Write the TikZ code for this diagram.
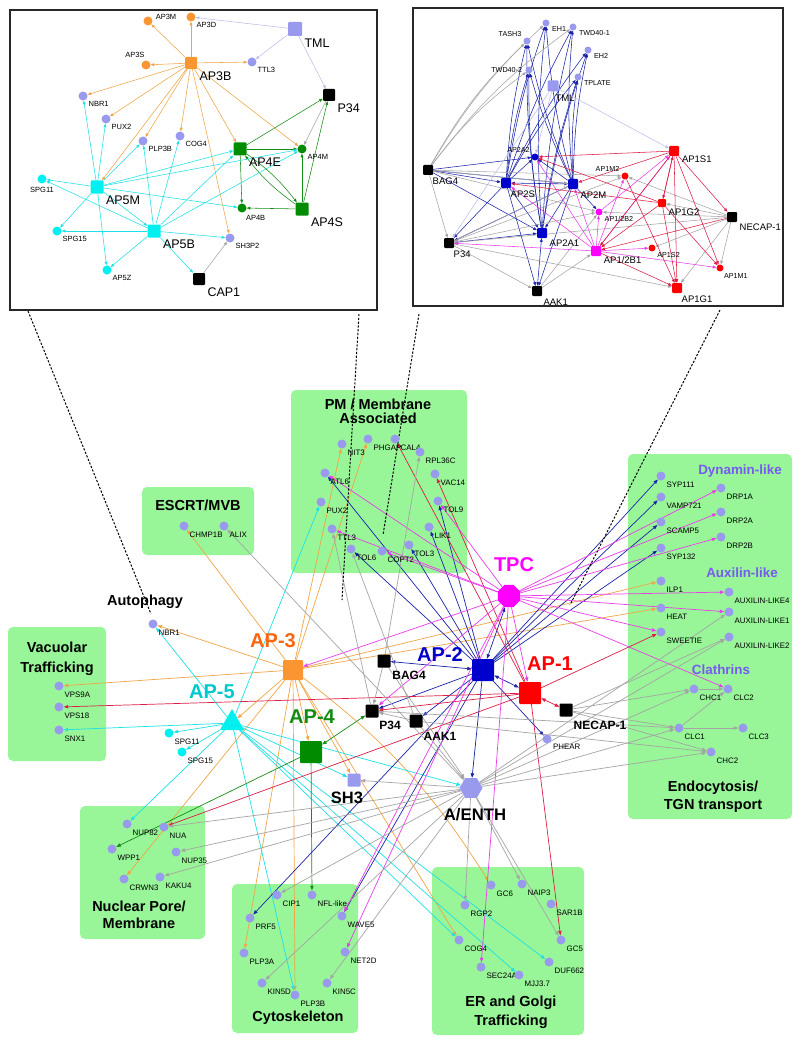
\documentclass[tikz,border=0pt]{standalone}
\usepackage{fontspec}
\setmainfont{Liberation Sans}
\usetikzlibrary{arrows.meta,shapes.geometric}
\pgfdeclarelayer{boxl}\pgfdeclarelayer{edgel}
\pgfsetlayers{boxl,edgel,main}
\definecolor{lav}{RGB}{153,153,238}
\definecolor{grn}{RGB}{152,245,152}
\definecolor{orn}{RGB}{250,150,50}
\definecolor{ornE}{RGB}{240,165,70}
\definecolor{ornT}{RGB}{252,100,15}
\definecolor{cyn}{RGB}{0,240,240}
\definecolor{cynE}{RGB}{30,225,230}
\definecolor{cynT}{RGB}{0,200,205}
\definecolor{gn}{RGB}{0,140,0}
\definecolor{gnE}{RGB}{20,140,20}
\definecolor{blu}{RGB}{0,0,205}
\definecolor{bluE}{RGB}{25,35,170}
\definecolor{rd}{RGB}{255,0,0}
\definecolor{rdE}{RGB}{220,30,70}
\definecolor{mag}{RGB}{255,0,255}
\definecolor{magE}{RGB}{235,60,235}
\definecolor{gry}{RGB}{165,165,165}
\definecolor{lavE}{RGB}{190,190,235}
\definecolor{purT}{RGB}{120,90,240}
\definecolor{framec}{RGB}{40,40,40}
\tikzset{
 lbl/.style={font=\fontsize{7.9}{8.5}\selectfont},
 slbl/.style={font=\fontsize{7.5}{8}\selectfont},
 tlbl/.style={font=\fontsize{7.2}{8}\selectfont},
 bigl/.style={font=\fontsize{12.5}{13}\selectfont},
 midl/.style={font=\fontsize{9.5}{10}\selectfont},
 blkl/.style={font=\bfseries\fontsize{12}{13}\selectfont, inner sep=0pt},
 hubl/.style={font=\bfseries\fontsize{20}{22}\selectfont, inner sep=0pt},
 grpt/.style={font=\bfseries\fontsize{14.5}{14}\selectfont, inner sep=0pt, align=center},
 subt/.style={font=\bfseries\fontsize{13.4}{14}\selectfont, inner sep=0pt, text=purT},
 cir/.style={circle, fill=#1, inner sep=0pt, minimum size=9pt},
 scir/.style={circle, fill=#1, inner sep=0pt, minimum size=7pt},
 sq/.style 2 args={rectangle, rounded corners=1pt, fill=#1, inner sep=0pt, minimum size=#2},
 gbox/.style={fill=grn, rounded corners=5pt},
 every label/.style={inner sep=0pt},
 label distance=3pt,
 e/.style={line width=0.7pt, -{Triangle[length=4.5pt,width=3.4pt]}},
 ee/.style={line width=0.7pt, {Triangle[length=4.5pt,width=3.4pt]}-{Triangle[length=4.5pt,width=3.4pt]}},
 se/.style={line width=0.55pt, -{Triangle[length=3.6pt,width=2.8pt]}},
 see/.style={line width=0.55pt, {Triangle[length=3.6pt,width=2.8pt]}-{Triangle[length=3.6pt,width=2.8pt]}},
 dline/.style={black, line width=1pt, dash pattern=on 2.2pt off 1.6pt},
}
\begin{document}
\begin{tikzpicture}[x=1pt,y=-1pt]
\useasboundingbox (0,0) rectangle (800,1043);
\begin{pgfonlayer}{boxl}
\fill[white] (0,0) rectangle (800,1043);
\draw[framec, line width=1.3pt] (10,10) rectangle (377,310);
\draw[framec, line width=1.3pt] (413,8) rectangle (783,306);
\fill[gbox] (291,390) rectangle (467,573);
\fill[gbox] (142,487) rectangle (254,555);
\fill[gbox] (8,627) rectangle (106,761);
\fill[gbox] (80,806) rectangle (205,939);
\fill[gbox] (232,884) rectangle (358,1033);
\fill[gbox] (432,867) rectangle (584,1035);
\fill[gbox] (628,454) rectangle (792,819);
\end{pgfonlayer}

% ================= inset 1 =================
\node[cir=orn,label={[slbl]10:AP3M}] (aAP3M) at (148,21) {};
\node[cir=orn,label={[slbl]-45:AP3D}] (aAP3D) at (191,17) {};
\node[sq={lav}{14pt},label={[bigl]-45:TML}] (aTML) at (295,29) {};
\node[cir=orn,label={[slbl]100:AP3S}] (aAP3S) at (146,65) {};
\node[sq={orn}{12pt},label={[bigl]-45:AP3B}] (aAP3B) at (191,63) {};
\node[cir=lav,label={[slbl]-45:TTL3}] (aTTL3) at (252,62) {};
\node[sq={black}{12pt},label={[bigl]-45:P34}] (aP34) at (329,95) {};
\node[cir=lav,label={[slbl]-45:NBR1}] (aNBR1) at (83,96) {};
\node[cir=lav,label={[slbl]-45:PUX2}] (aPUX2) at (106,119) {};
\node[cir=lav,label={[slbl]-45:PLP3B}] (aPLP3B) at (143,141) {};
\node[cir=lav,label={[slbl]-45:COG4}] (aCOG4) at (180,136) {};
\node[sq={gn}{13pt},label={[bigl]-45:AP4E}] (aAP4E) at (240,149) {};
\node[cir=gn,label={[slbl]-45:AP4M}] (aAP4M) at (302,149) {};
\node[sq={cyn}{13pt},label={[bigl]-45:AP5M}] (aAP5M) at (97,187) {};
\node[cir=cyn,label={[slbl]-90:SPG11}] (aSPG11) at (42,179) {};
\node[cir=gn,label={[slbl]-60:AP4B}] (aAP4B) at (242,208) {};
\node[sq={gn}{13pt},label={[bigl]-45:AP4S}] (aAP4S) at (302,209) {};
\node[cir=cyn,label={[slbl]-45:SPG15}] (aSPG15) at (57,231) {};
\node[sq={cyn}{13pt},label={[bigl]-45:AP5B}] (aAP5B) at (154,231) {};
\node[cir=lav,label={[slbl]-45:SH3P2}] (aSH3P2) at (230,238) {};
\node[cir=cyn,label={[slbl]-45:AP5Z}] (aAP5Z) at (107,270) {};
\node[sq={black}{12pt},label={[bigl]-45:CAP1}] (aCAP1) at (199,279) {};

% ================= inset 2 =================
\node[scir=lav,label={[tlbl]-30:EH1}] (bEH1) at (546,23) {};
\node[scir=lav,label={[tlbl]-30:TWD40-1}] (bTWDa) at (573,27) {};
\node[scir=lav,label={[tlbl]145:TASH3}] (bTASH3) at (527,41) {};
\node[scir=lav,label={[tlbl]-30:EH2}] (bEH2) at (588,50) {};
\node[scir=lav,label={[tlbl]180:TWD40-2}] (bTWDb) at (529,70) {};
\node[scir=lav,label={[tlbl]-30:TPLATE}] (bTPLATE) at (578,77) {};
\node[sq={lav}{11pt},label={[midl]-75:TML}] (bTML) at (553,86) {};
\node[scir=blu,label={[tlbl]140:AP2A2}] (bAP2A2) at (535,157) {};
\node[sq={rd}{10pt},label={[midl]-30:AP1S1}] (bAP1S1) at (674,151) {};
\node[scir=rd,label={[tlbl]145:AP1M2}] (bAP1M2) at (625,176) {};
\node[sq={black}{10pt},label={[midl]-60:BAG4}] (bBAG4) at (428,170) {};
\node[sq={blu}{10pt},label={[midl]-60:AP2S}] (bAP2S) at (506,183) {};
\node[sq={blu}{10pt},label={[midl]-45:AP2M}] (bAP2M) at (573,184) {};
\node[sq={rd}{8pt},label={[midl]-40:AP1G2}] (bAP1G2) at (662,203) {};
\node[sq={black}{10pt},label={[midl]-40:NECAP-1}] (bNECAP) at (732,217) {};
\node[scir=mag,label={[tlbl]-35:AP1/2B2}] (bB2) at (599,212) {};
\node[sq={blu}{10pt},label={[midl]-40:AP2A1}] (bAP2A1) at (542,233) {};
\node[sq={black}{10pt},label={[midl]-60:P34}] (bP34) at (449,243) {};
\node[sq={mag}{10pt},label={[midl]-35:AP1/2B1}] (bB1) at (596,251) {};
\node[scir=rd,label={[tlbl]-40:AP1S2}] (bAP1S2) at (652,248) {};
\node[scir=rd,label={[tlbl]-55:AP1M1}] (bAP1M1) at (720,268) {};
\node[sq={black}{10pt},label={[midl]-50:AAK1}] (bAAK1) at (537,291) {};
\node[sq={rd}{10pt},label={[midl]-60:AP1G1}] (bAP1G1) at (677,288) {};

% ================= main graph: hubs =================
\node[sq={orn}{20pt}] (AP3) at (293,670) {};
\node[regular polygon, regular polygon sides=3, fill=cyn, inner sep=0pt, minimum size=28pt] (AP5) at (232,723) {};
\node[sq={gn}{22pt}] (AP4) at (311,752) {};
\node[sq={blu}{22pt}] (AP2) at (483,670) {};
\node[sq={rd}{22pt}] (AP1) at (530,693) {};
\node[regular polygon, regular polygon sides=8, fill=mag, inner sep=0pt, minimum size=24pt] (TPC) at (509,596) {};
\node[regular polygon, regular polygon sides=6, fill=lav, inner sep=0pt, minimum size=23pt] (AENTH) at (471,788) {};
\node[sq={lav}{13pt}] (SH3) at (354,780) {};
\node[sq={black}{13pt}] (BAG4) at (384,661) {};
\node[sq={black}{13pt}] (P34) at (372,711) {};
\node[sq={black}{13pt}] (AAK1) at (416,721) {};
\node[sq={black}{13pt}] (NECAP) at (566,710) {};
\node[cir=lav,label={[lbl]-40:PHEAR}] (PHEAR) at (547,739) {};

\node[hubl,text=ornT] (AP3l) at (273,641) {AP-3};
\node[hubl,text=cynT] (AP5l) at (212,692) {AP-5};
\node[hubl,text=gnE] (AP4l) at (312,717) {AP-4};
\node[hubl,text=blu] (AP2l) at (440,655) {AP-2};
\node[hubl,text=rd] (AP1l) at (550,664) {AP-1};
\node[hubl,text=mag] (TPCl) at (514,565) {TPC};
\node[font=\bfseries\fontsize{16.7}{18}\selectfont,inner sep=0pt] (AENTHl) at (475,815) {A/ENTH};
\node[font=\bfseries\fontsize{16.5}{18}\selectfont,inner sep=0pt] (SH3l) at (347,798) {SH3};
\node[blkl] (BAG4l) at (409,675) {BAG4};
\node[blkl] (P34l) at (390,725) {P34};
\node[blkl] (AAK1l) at (440,736) {AAK1};
\node[blkl] (NECAPl) at (600,725) {NECAP-1};

% group titles
\node[grpt] (ESCRTt) at (198,505) {ESCRT/MVB};
\node[grpt] (PMt) at (378,411) {PM / Membrane\\Associated};
\node[grpt,font=\bfseries\fontsize{14.5}{20}\selectfont] (Vact) at (57,659) {Vacuolar\\Trafficking};
\node[grpt] (Autot) at (145,602) {Autophagy};
\node[grpt,font=\bfseries\fontsize{14.5}{17}\selectfont] (Nuct) at (139,915) {Nuclear Pore/\\Membrane};
\node[grpt] (Cytot) at (298,1018) {Cytoskeleton};
\node[grpt,font=\bfseries\fontsize{14.5}{19}\selectfont] (ERt) at (511,1012) {ER and Golgi\\Trafficking};
\node[grpt,font=\bfseries\fontsize{14.5}{18}\selectfont] (Endot) at (713,797) {Endocytosis/\\TGN transport};
\node[subt] (Dynt) at (740,471) {Dynamin-like};
\node[subt] (Auxt) at (742,573) {Auxilin-like};
\node[subt] (Clat) at (721,670) {Clathrins};

% ================= main graph: leaf nodes =================
\foreach \n/\x/\y/\t in {
 NBR1/153/624/NBR1, CHMP1B/184/526/CHMP1B, ALIX/224/526/ALIX,
 VPS9A/59/686/VPS9A, VPS18/59/707/VPS18, SNX1/59/730/SNX1,
 NUP82/127/824/NUP82, NUA/164/827/NUA, WPP1/112/849/WPP1, NUP35/176/852/NUP35,
 CRWN3/124/879/CRWN3, KAKU4/160/877/KAKU4,
 CIP1/277/895/CIP1, NFLlike/312/895/NFL-like, PRF5/250/918/PRF5, WAVE5/342/916/WAVE5,
 PLP3A/244/953/PLP3A, NET2D/345/952/NET2D, KIN5D/262/983/KIN5D, PLP3B/295/995/PLP3B, KIN5C/327/983/KIN5C,
 GC6/491/885/GC6, NAIP3/522/884/NAIP3, RGP2/465/905/RGP2, SAR1B/551/904/SAR1B,
 COG4/459/940/COG4, GC5/561/940/GC5, DUF662/549/962/DUF662, SEC24A/481/967/SEC24A, MJJ/519/975/MJJ3.7,
 SYP111/661/476/SYP111, DRP1A/721/488/DRP1A, VAMP721/661/497/VAMP721, DRP2A/721/512/DRP2A,
 SCAMP5/661/522/SCAMP5, DRP2B/721/537/DRP2B, SYP132/661/548/SYP132,
 ILP1/661/581/ILP1, AUXf/729/592/AUXILIN-LIKE4, HEAT/661/608/HEAT, AUXa/729/612/AUXILIN-LIKE1,
 SWEETIE/661/632/SWEETIE, AUXb/729/637/AUXILIN-LIKE2,
 CHC1/694/689/CHC1, CLC2/728/689/CLC2, CLC1/679/728/CLC1, CLC3/743/728/CLC3, CHC2/711/752/CHC2,
 NIT3/342/444/NIT3, PHGAP/368/439/PHGAP, CALf/395/439/CAL4, RPL36C/420/452/RPL36C, VAC14/435/474/VAC14,
 ATL6/325/473/ATL6, PUX2/321/502/PUX2, TOL9/438/501/TOL9, TTL3/332/529/TTL3, LIK1/429/527/LIK1,
 TOL6/351/549/TOL6, TOL3/409/545/TOL3, COPT2/382/551/COPT2}
 {\node[cir=lav,label={[lbl]-45:\t}] (\n) at (\x,\y) {};}
\node[cir=cyn,label={[lbl]-45:SPG11}] (SPG11) at (169,733) {};
\node[cir=cyn,label={[lbl]-45:SPG15}] (SPG15) at (182,752) {};

% dashed zoom lines
\coordinate (d1a) at (28,311); \coordinate (d1b) at (151,614);
\coordinate (d2a) at (359,314); \coordinate (d2b) at (342,600);
\coordinate (d3a) at (419,314); \coordinate (d3b) at (383,535);
\coordinate (d4a) at (720,310); \coordinate (d4b) at (570,605);

\begin{pgfonlayer}{edgel}
% ---------- inset 1 ----------
\foreach \t in {aAP3M,aAP3D,aAP3S,aTTL3,aNBR1,aPUX2,aPLP3B,aCOG4,aAP4E,aAP4M,aAP5M,aSH3P2}
 \draw[se,ornE] (aAP3B) -- (\t);
\foreach \t in {aAP3D,aTTL3,aP34} \draw[se,lavE] (aTML) -- (\t);
\foreach \t in {aP34,aAP4M,aAP4B} \draw[se,gnE] (aAP4E) -- (\t);
\draw[se,gnE] (aAP4E) to[bend left=8] (aAP4S);
\draw[se,gnE] (aAP4S) to[bend left=8] (aAP4E);
\foreach \t in {aAP4B,aAP4M,aP34} \draw[se,gnE] (aAP4S) -- (\t);
\draw[se,gry] (aP34) -- (aAP4M);
\draw[se,gry] (aCAP1) -- (aSH3P2);
\foreach \t in {aNBR1,aPUX2,aPLP3B,aSPG11,aSPG15,aAP5Z,aAP4E,aAP4M,aAP4B,aAP5B}
 \draw[se,cynE] (aAP5M) -- (\t);
\foreach \t in {aSPG11,aSPG15,aAP5Z,aPLP3B,aCOG4,aAP4E,aAP4M,aSH3P2,aCAP1}
 \draw[se,cynE] (aAP5B) -- (\t);

% ---------- inset 2 ----------
\foreach \s in {bAP2S,bAP2M,bAP2A1}
 \foreach \t in {bEH1,bTWDa,bTASH3,bEH2,bTWDb,bTPLATE}
  \draw[se,bluE] (\s) to[bend left=5] (\t);
\foreach \t in {bTASH3,bTWDb,bEH1,bTWDa} \draw[se,gry] (bBAG4) to[bend left=8] (\t);
\draw[see,bluE] (bAP2S) -- (bAP2M);
\foreach \t in {bAP2A2,bAP2A1,bAAK1,bP34} \draw[se,bluE] (bAP2S) -- (\t);
\foreach \t in {bAP2A2,bAP2A1,bB2,bAAK1,bP34} \draw[se,bluE] (bAP2M) -- (\t);
\foreach \t in {bAAK1,bP34} \draw[see,bluE] (bAP2A1) -- (\t);
\foreach \t in {bAP2A2,bAP2S,bAP2M,bAP2A1} \draw[se,bluE] (bBAG4) -- (\t);
\foreach \t in {bP34,bAP1M2,bB2,bAP2M} \draw[se,gry] (bBAG4) -- (\t);
\foreach \t in {bAAK1,bAP1G1,bB2,bAP1M2,bAP2M} \draw[se,gry] (bP34) -- (\t);
\foreach \t in {bB1,bB2} \draw[se,gry] (bAAK1) -- (\t);
\foreach \t in {bAP1G2,bAP1M1,bAP1G1,bAP1S2,bAP1M2,bB2,bP34} \draw[se,gry] (bNECAP) -- (\t);
\foreach \t in {bAP2A2,bP34,bAP1S1} \draw[se,lavE] (bTML) -- (\t);
\foreach \t in {bP34,bAP2A2,bAP2S,bAP2M,bAP1S1,bAP1M2,bAP1S2,bAP1M1,bB2}
 \draw[se,magE] (bB1) -- (\t);
\draw[se,magE] (bB2) -- (bAP1S1);
\foreach \t in {bAP2A2,bAP1G2,bB1,bNECAP,bAP1M1,bAP1G1,bAP2M} \draw[se,rdE] (bAP1S1) -- (\t);
\foreach \t in {bAP2S,bAP2A2,bB1,bAP1M1,bAP1G1,bAP1S1} \draw[se,rdE] (bAP1G2) -- (\t);
\draw[se,rdE] (bB1) -- (bAP1G1);
\draw[se,rdE] (bAP1M2) -- (bAP1G1);
\draw[se,rdE] (bNECAP) -- (bB1);

% ---------- main graph ----------
\foreach \t in {NBR1,CHMP1B,VPS9A,NIT3,PHGAP,ILP1,HEAT,CRWN3,PLP3A,PLP3B,COG4,AP4,SH3,AP5}
 \draw[e,ornE] (AP3) -- (\t);
\draw[e,ornE] (AP3) to[bend left=10] (GC6);
\foreach \t in {NBR1,PUX2,SNX1,SPG11,SPG15,NUP82,PLP3B,SH3,AENTH,COG4,MJJ,DUF662}
 \draw[e,cynE] (AP5) -- (\t);
\draw[ee,gnE] (AP4) -- (P34);
\foreach \t in {WPP1,NFLlike} \draw[e,gnE] (AP4) -- (\t);
\foreach \t in {BAG4,TPC,AP1} \draw[ee,bluE] (AP2) -- (\t);
\foreach \t in {P34,AAK1,PHEAR,AENTH,ATL6,TOL6,TOL3,LIK1,TOL9,SYP111,VAMP721,SCAMP5,SYP132,PRF5,WAVE5}
 \draw[e,bluE] (AP2) -- (\t);
\foreach \t in {VPS18,NUA,CALf,VAC14,SWEETIE,GC5,P34} \draw[e,rdE] (AP1) -- (\t);
\draw[ee,rdE] (AP1) -- (NECAP);
\foreach \t in {AP3,ATL6,TTL3,COPT2,TOL9,DRP1A,DRP2A,DRP2B,AUXf,AUXa,SWEETIE,CLC2,P34,AP1,WAVE5,NET2D,SEC24A}
 \draw[e,magE] (TPC) -- (\t);
\foreach \t in {ALIX,SH3,RGP2,NAIP3,GC5,CIP1,KIN5D,KIN5C,NUA,NUP35,KAKU4,AUXa,AUXb,CHC1,CLC1,CHC2}
 \draw[e,gry] (AENTH) -- (\t);
\draw[e,gry] (P34) -- (TTL3);
\draw[e,gry] (AAK1) -- (TOL6);
\draw[e,gry] (BAG4) -- (RPL36C);
\draw[e,gry] (BAG4) -- (P34);
\draw[e,gry] (AAK1) -- (P34);
\draw[e,gry] (BAG4) -- (AENTH);
\draw[e,gry] (AAK1) -- (AENTH);
\foreach \t in {CHC1,CLC1,CHC2,AUXb} \draw[e,gry] (NECAP) -- (\t);
\draw[e,gry] (P34) -- (CLC1);
\draw[e,gry] (AAK1) -- (CHC2);
\draw[e,gry] (CHC1) -- (CLC2);
\draw[e,gry] (CLC1) -- (CLC2);
\draw[e,gry] (CLC1) -- (CLC3);

% dashed zoom lines
\draw[dline] (d1a) -- (d1b);
\draw[dline] (d2a) -- (d2b);
\draw[dline] (d3a) -- (d3b);
\draw[dline] (d4a) -- (d4b);
\end{pgfonlayer}
\end{tikzpicture}
\end{document}
